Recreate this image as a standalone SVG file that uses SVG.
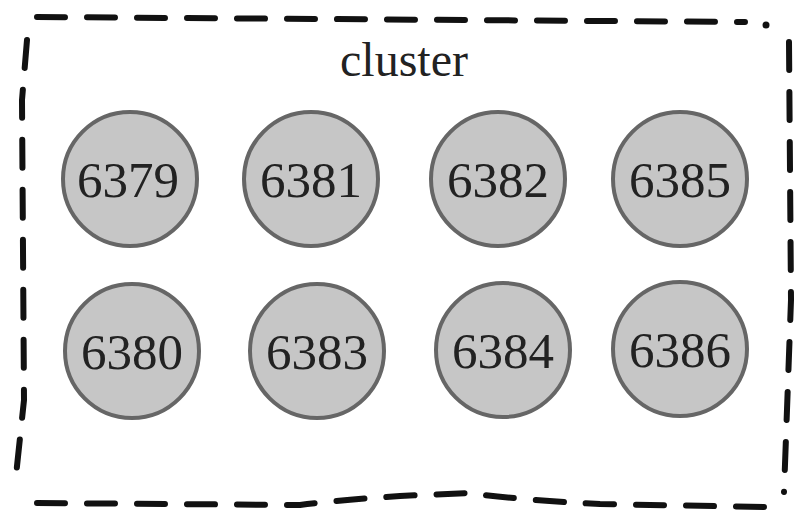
<svg xmlns="http://www.w3.org/2000/svg" width="794" height="511" viewBox="0 0 794 511">
<style>
.b{fill:none;stroke:#111;stroke-width:6;stroke-dasharray:28 22;stroke-linecap:round}
.n circle{fill:#c6c6c6;stroke:#666;stroke-width:4}
.n text{font-family:"Liberation Serif",serif;font-size:51px;fill:#222;text-anchor:middle}
.t{font-family:"Liberation Serif",serif;font-size:48px;fill:#222;text-anchor:middle}
</style>
<rect width="794" height="511" fill="#fff"/>
<g id="cluster">
<path class="b" d="M37,17 L745,22"/>
<circle cx="766" cy="25" r="3.5" fill="#111"/>
<path class="b" d="M27,40 L22,100 L24,400 L15,485"/>
<path class="b" d="M789,42 L791,300 L784,492"/>
<path class="b" d="M37,503 L300,505 Q340,500 400,496 L468,493 Q520,500 600,504 L765,507"/>
<text class="t" x="404" y="76">cluster</text>
</g>
<g id="n6379" class="n"><circle cx="130" cy="179" r="67"/><text x="128" y="197">6379</text></g>
<g id="n6381" class="n"><circle cx="311" cy="179" r="67"/><text x="311" y="197">6381</text></g>
<g id="n6382" class="n"><circle cx="498" cy="179" r="67"/><text x="498" y="197">6382</text></g>
<g id="n6385" class="n"><circle cx="680" cy="179" r="67"/><text x="680" y="197">6385</text></g>
<g id="n6380" class="n"><circle cx="132" cy="351" r="67"/><text x="132" y="369">6380</text></g>
<g id="n6383" class="n"><circle cx="317" cy="351" r="67"/><text x="317" y="369">6383</text></g>
<g id="n6384" class="n"><circle cx="503" cy="350" r="67"/><text x="503" y="368">6384</text></g>
<g id="n6386" class="n"><circle cx="680" cy="349" r="67"/><text x="680" y="367">6386</text></g>
<g id="connectors"/>
</svg>
